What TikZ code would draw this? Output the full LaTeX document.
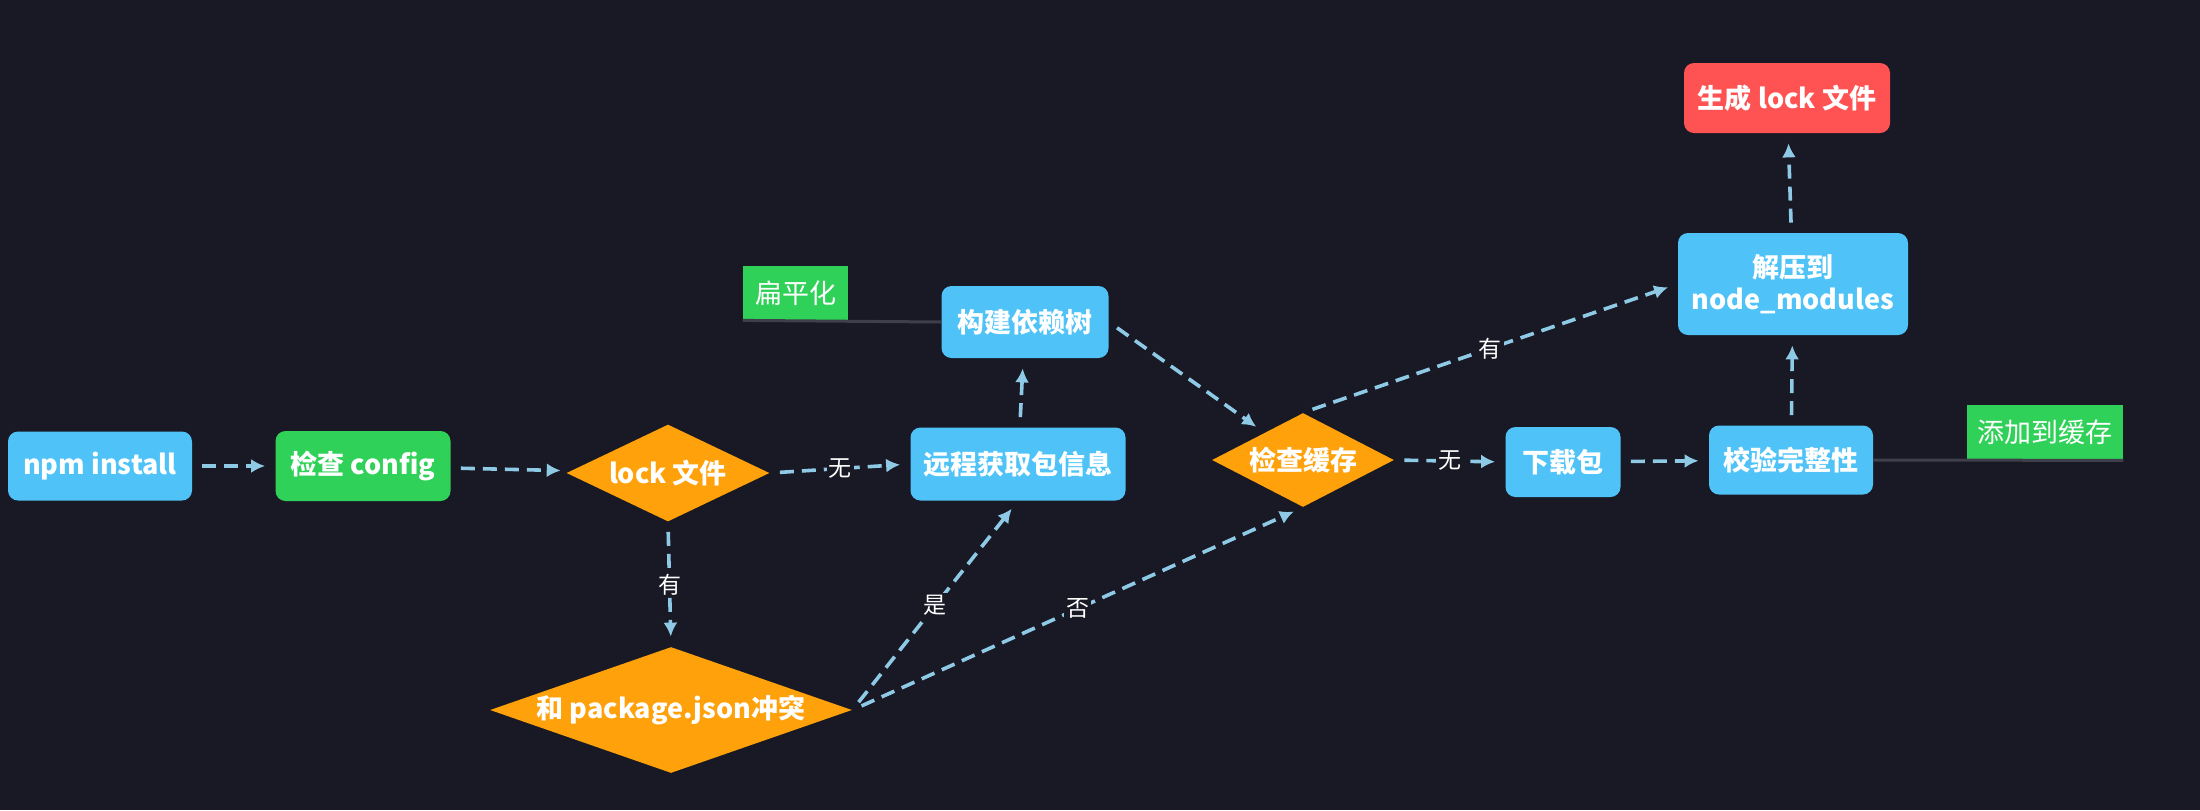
\documentclass[tikz,border=0pt]{standalone}
\usepackage{fontspec}
\setmainfont{Noto Sans CJK SC}
\usepackage{tikz}
\usetikzlibrary{shapes.geometric,arrows.meta}
\definecolor{bgdark}{RGB}{24,25,36}
\definecolor{npmblue}{RGB}{79,195,247}
\definecolor{npmgreen}{RGB}{48,209,88}
\definecolor{npmorange}{RGB}{255,161,10}
\definecolor{npmred}{RGB}{255,82,82}
\definecolor{flowblue}{RGB}{142,202,230}
\definecolor{notegray}{RGB}{62,63,74}

\tikzset{
  box/.style={rectangle,rounded corners=5pt,fill=npmblue,text=white,font=\fontsize{13.5}{16}\selectfont\bfseries,inner sep=0pt,align=center},
  decide/.style={diamond,fill=npmorange,text=white,font=\fontsize{13.5}{16}\selectfont\bfseries,inner sep=0pt},
  note/.style={rectangle,fill=npmgreen,text=white,font=\fontsize{13.5}{16}\selectfont,inner sep=0pt},
  flow/.style={flowblue,line width=1.8pt,dash pattern=on 7pt off 4pt,-{Latex[length=7pt,width=7pt]},shorten >=5pt,shorten <=5pt},
  lbl/.style={fill=bgdark,text=white,font=\fontsize{11.5}{13}\selectfont,inner sep=1pt}
}

\begin{document}
\begin{tikzpicture}[x=0.5pt,y=-0.5pt]
\fill[bgdark] (0,0) rectangle (2200,810);
\useasboundingbox (0,0) rectangle (2200,810);

% Steps
\node[box,minimum width=92pt,minimum height=34.5pt] (install) at (100,466) {npm install};
\node[box,fill=npmgreen,minimum width=87.5pt,minimum height=35pt] (config) at (363,466) {检查 config};
\node[decide,shape aspect=2,minimum width=101.5pt,minimum height=48.5pt] (lock) at (668,473) {lock 文件};
\node[decide,shape aspect=2.9,minimum width=181pt,minimum height=63pt] (conflict) at (671,710) {和 package.json冲突};
\node[box,minimum width=107.5pt,minimum height=36.5pt] (remote) at (1018,464) {远程获取包信息};
\node[box,minimum width=83.5pt,minimum height=36pt] (tree) at (1025,322) {构建依赖树};
\node[decide,shape aspect=2,minimum width=91pt,minimum height=47pt] (cache) at (1303,460) {检查缓存};
\node[box,minimum width=57.5pt,minimum height=35pt] (download) at (1563,462) {下载包};
\node[box,minimum width=82pt,minimum height=34.5pt] (verify) at (1791,460) {校验完整性};
\node[box,minimum width=115pt,minimum height=51pt] (unzip) at (1793,284) {解压到\\node\_modules};
\node[box,fill=npmred,minimum width=103pt,minimum height=35pt] (genlock) at (1787,98) {生成 lock 文件};

% Notes
\node[note,minimum width=52.5pt,minimum height=27pt] (flat) at (795.5,293) {扁平化};
\node[note,minimum width=78pt,minimum height=27.5pt] (addcache) at (2045,432.5) {添加到缓存};
\draw[notegray,line width=1.5pt] (flat.south west) -- (tree.west);
\draw[notegray,line width=1.5pt] (verify.east) -- (addcache.south east);

% Flow
\draw[flow] (install) -- (config);
\draw[flow] (config) -- (lock);
\draw[flow] (lock.east) -- node[lbl] {无} (remote.west);
\draw[flow] (lock.south) -- node[lbl] {有} (conflict.north);
\draw[flow] (conflict.east) -- node[lbl] {是} (remote.south);
\draw[flow] (conflict.east) -- node[lbl] {否} (cache.south);
\draw[flow] (remote) -- (tree);
\draw[flow] (tree.east) -- (cache);
\draw[flow] (cache.north) -- node[lbl] {有} (unzip.west);
\draw[flow] (cache.east) -- node[lbl] {无} (download.west);
\draw[flow] (download) -- (verify);
\draw[flow] (verify) -- (unzip);
\draw[flow] (unzip) -- (genlock);
\end{tikzpicture}
\end{document}
